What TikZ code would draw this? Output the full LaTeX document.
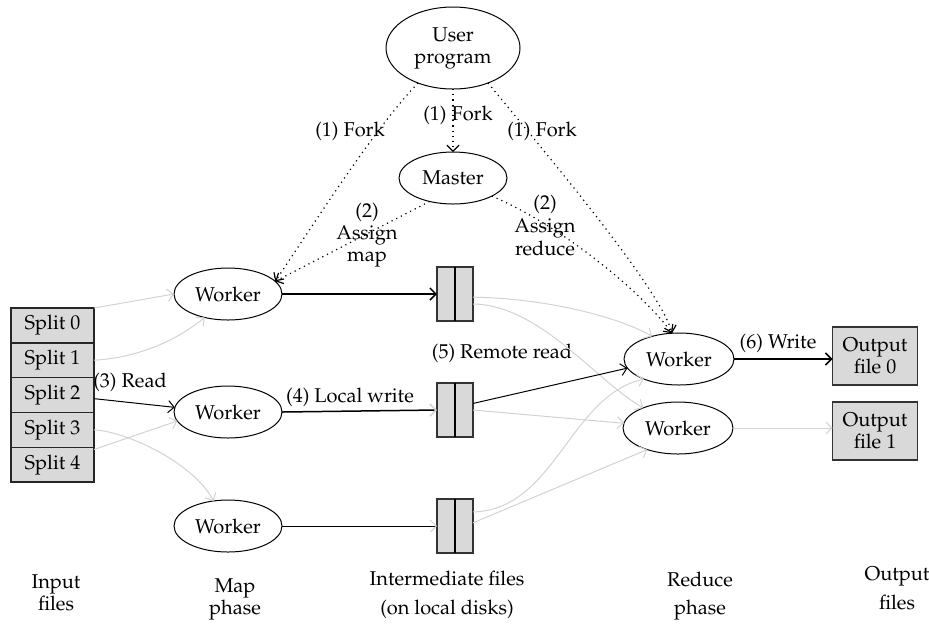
\documentclass[tikz,border=0pt]{standalone}
\usepackage[T1]{fontenc}
\usepackage{mathpazo}
\usetikzlibrary{shapes.geometric,arrows.meta}
\begin{document}
\begin{tikzpicture}[x=0.5pt,y=-0.5pt,
  font=\fontsize{10}{11}\selectfont,
  every node/.style={inner sep=0pt, outer sep=0pt},
  oval/.style={ellipse, draw, line width=0.5pt, minimum width=54pt, minimum height=26pt},
  redoval/.style={oval, minimum width=55pt},
  splitbox/.style={rectangle, draw=black!85, fill=gray!30, line width=0.7pt, minimum width=41.5pt, minimum height=17.4pt},
  filebox/.style={rectangle, draw=black!80, fill=gray!30, line width=0.6pt, minimum width=18pt, minimum height=27pt},
  outbox/.style={rectangle, draw=black!80, fill=gray!30, line width=0.6pt, minimum width=42.5pt, minimum height=29pt, align=center},
  lbl/.style={align=center},
  arrowtip/.style={-{Straight Barb[length=3pt,width=6pt]}},
  graytip/.style={-{Straight Barb[length=3pt,width=6pt,color=gray!35]}},
  grayarrow/.style={draw=gray!35, line width=0.5pt, arrowtip},
  thickarrow/.style={draw=black, line width=0.75pt, arrowtip},
  thinarrow/.style={draw=black, line width=0.5pt, arrowtip},
  dotarrow/.style={draw=black, line width=0.6pt, dotted, arrowtip},
]
\useasboundingbox (0,0) rectangle (929,623);

% nodes
\node[oval, minimum width=67pt, minimum height=41pt, align=center] (user) at (453,48) {User\\program};
\node[oval] (master) at (453,178) {Master};

\node[oval] (w1) at (228,294) {Worker};
\node[oval] (w2) at (228,412) {Worker};
\node[oval] (w3) at (228,526) {Worker};

\node[splitbox] (s0) at (52.5,325.4) {Split 0};
\node[splitbox] (s1) at (52.5,360.2) {Split 1};
\node[splitbox] (s2) at (52.5,395.0) {Split 2};
\node[splitbox] (s3) at (52.5,429.8) {Split 3};
\node[splitbox] (s4) at (52.5,464.6) {Split 4};

\node[filebox] (f1) at (455,294) {};
\node[filebox] (f2) at (455,410) {};
\node[filebox] (f3) at (455,526) {};
\draw[line width=0.8pt] (f1.north) -- (f1.south);
\draw[line width=0.8pt] (f2.north) -- (f2.south);
\draw[line width=0.8pt] (f3.north) -- (f3.south);

\node[redoval] (rw1) at (679,359) {Worker};
\node[redoval] (rw2) at (678,428) {Worker};

\node[outbox] (o0) at (875,356) {Output\\file 0};
\node[outbox] (o1) at (875,431) {Output\\file 1};

% labels
\node[lbl] (fork1) at (350,131) {(1) Fork};
\node[lbl] (fork2) at (458,115) {(1) Fork};
\node[lbl] (fork3) at (542,131) {(1) Fork};
\node[lbl] (amap) at (367,235) {(2)\\Assign\\map};
\node[lbl] (ared) at (545,225) {(2)\\[0.5pt]Assign\\[0.5pt]reduce};
\node[lbl] (read) at (130,382) {(3) Read};
\node[lbl] (lwrite) at (350,397) {(4) Local write};
\node[lbl] (rread) at (502,353) {(5) Remote read};
\node[lbl] (write) at (778,343) {(6) Write};

\node[lbl] (input) at (56,593) {Input\\files};
\node[lbl] (mapph) at (235,599) {Map\\phase};
\node[lbl] (inter) at (447,595) {Intermediate files\\[3.5pt](on local disks)};
\node[lbl] (redph) at (700,596) {Reduce\\[3pt]phase};
\node[lbl] (outf) at (897,588) {Output\\[3.5pt]files};

% dotted control arrows
\draw[dotarrow] (user.225) .. controls (375,128) and (321,213) .. (w1.15);
\draw[dotarrow] (user.south) -- (master.north);
\draw[dotarrow] (user.-45) .. controls (560,170) and (660,290) .. (rw1.105);
\draw[dotarrow] (master.225) -- (w1.15);
\draw[dotarrow] (master.-25) .. controls (560,225) and (640,290) .. (rw1.105);

% input splits to map workers
\draw[grayarrow] (s0.north east) -- (w1.west);
\draw[grayarrow] (s1.east) .. controls (135,358) and (175,342) .. (w1.225);
\draw[thinarrow] (s2.-5) -- (w2.175);
\draw[grayarrow] (s3.east) .. controls (130,432) and (195,465) .. (w3.120);
\draw[grayarrow] (s4.20) -- (w2.190);

% map workers to intermediate files
\draw[thickarrow] (w1.east) -- (f1.west);
\draw[draw=black, line width=0.75pt, graytip] (w2.east) -- (f2.west);
\draw[draw=black, line width=0.5pt, graytip] (w3.east) -- (f3.west);

% intermediate files to reduce workers
\draw[grayarrow] (f1.-10) .. controls (540,298) and (615,315) .. (rw1.140);
\draw[grayarrow] (f1.-29) .. controls (540,305) and (595,380) .. (rw2.150);
\draw[thinarrow] (f2.20) -- (rw1.190);
\draw[grayarrow] (f2.east) -- (rw2.175);
\draw[grayarrow] (f3.38) .. controls (555,510) and (570,395) .. (rw1.210);
\draw[grayarrow] (f3.10) -- (rw2.215);

% reduce workers to output files
\draw[thickarrow] (rw1.east) -- (o0.west |- rw1.east);
\draw[grayarrow] (rw2.east) -- (o1.west |- rw2.east);
\end{tikzpicture}
\end{document}
